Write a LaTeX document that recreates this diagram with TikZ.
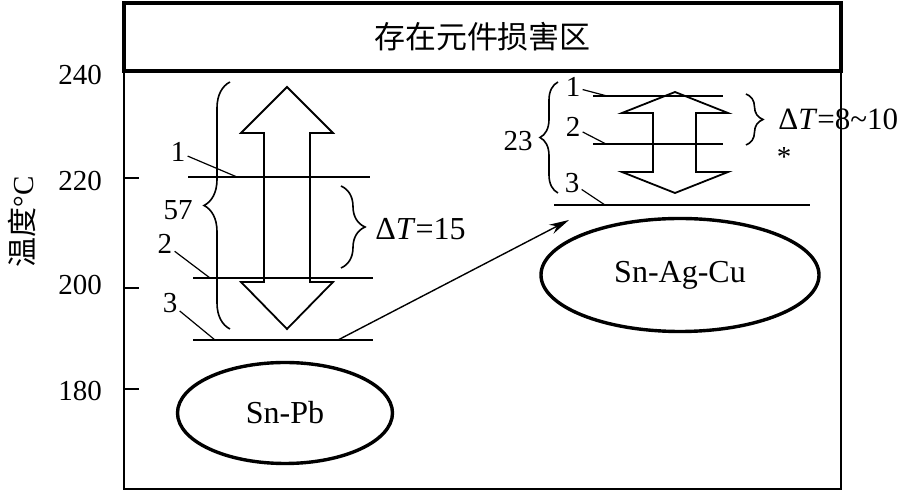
\documentclass[tikz,border=0pt]{standalone}
\usepackage{fontspec}
\setmainfont{Liberation Serif}
\newfontfamily\cjk{Noto Sans CJK SC}
\usetikzlibrary{arrows.meta,decorations.pathreplacing,shapes.geometric}
\tikzset{
  lvl/.style={line width=0.8pt},
  lead/.style={line width=0.6pt},
  blockarrow/.style={line width=0.9pt,line join=miter},
  alloy/.style={shape=ellipse,draw,line width=1.7pt,inner sep=0pt,font=\fontsize{16}{18}\selectfont},
  brc/.style={decorate,decoration={brace,amplitude=#1},line width=0.8pt},
  lbl/.style={inner sep=1pt}
}
\begin{document}
\begin{tikzpicture}[x=0.5pt,y=-0.5pt,font=\fontsize{14.5}{17}\selectfont]
\useasboundingbox (0,0) rectangle (902,491);
% frame and header
\draw[line width=1pt] (124,71) -- (124,489) -- (841,489) -- (841,71);
\node(zone) at (482.5,37)[shape=rectangle,draw,line width=1.8pt,minimum width=358.5pt,minimum height=34pt]{\cjk\fontsize{15.5}{17}\selectfont 存在元件损害区};
% axis
\node(ylab) at (22,222)[rotate=90]{{\cjk\fontsize{15}{17}\selectfont 温度}°C};
\node(t240) at (80,75){240};
\node(t220) at (80,181){220};
\node(t200) at (80,285){200};
\node(t180) at (80,391){180};
\draw[line width=1pt] (124,178) -- (139,178);
\draw[line width=1pt] (124,288) -- (139,288);
\draw[line width=1pt] (124,389) -- (139,389);

% Sn-Pb
\draw[blockarrow] (287,87) -- (333,133) -- (310,133) -- (310,282) -- (333,282) -- (287,329)
  -- (241,282) -- (264,282) -- (264,133) -- (241,133) -- cycle;
\coordinate(a1) at (188,177);
\coordinate(b1) at (370,177);
\coordinate(a2) at (193,278);
\coordinate(b2) at (373,278);
\coordinate(a3) at (193,340);
\coordinate(b3) at (373,340);
\draw[lvl] (a1) -- (b1);
\draw[lvl] (a2) -- (b2);
\draw[lvl] (a3) -- (b3);
\node(l1) at (178,152)[lbl]{1};
\node(l2) at (165,244)[lbl]{2};
\node(l3) at (170,303)[lbl]{3};
\coordinate(p1) at (237,177);
\coordinate(p2) at (210,278);
\coordinate(p3) at (215,340);
\path [lead]
  (l1)      edge      (p1)
  (l2)      edge      (p2)
  (l3)      edge      (p3);
\draw[brc=13pt] (230,329) -- (230,82);
\node(n57) at (178,210){57};
\draw[brc=12pt] (341,186) -- (341,268);
\node(dT15) at (373,229)[anchor=west,lbl,font=\fontsize{16}{18}\selectfont]{Δ\textit{T}=15};
\node(snpb) at (285,413)[alloy,minimum width=107.5pt,minimum height=50.5pt]{Sn-Pb};

% Sn-Ag-Cu
\draw[blockarrow] (675,92) -- (728,113) -- (696,113) -- (696,172) -- (728,172) -- (675,193)
  -- (622,172) -- (653,172) -- (653,113) -- (622,113) -- cycle;
\coordinate(c1) at (593,96);
\coordinate(d1) at (723,96);
\coordinate(c2) at (593,144);
\coordinate(d2) at (723,144);
\coordinate(c3) at (554,205);
\coordinate(d3) at (810,205);
\draw[lvl] (c1) -- (d1);
\draw[lvl] (c2) -- (d2);
\draw[lvl] (c3) -- (d3);
\node(m1) at (573,87)[lbl]{1};
\node(m2) at (573,127)[lbl]{2};
\node(m3) at (572,183)[lbl]{3};
\coordinate(q1) at (607,96);
\coordinate(q2) at (606,144);
\coordinate(q3) at (605,205);
\path [lead]
  (m1)      edge      (q1)
  (m2)      edge      (q2)
  (m3)      edge      (q3);
\draw[brc=9pt] (558,193) -- (558,82);
\node(n23) at (518,141){23};
\draw[brc=8.5pt] (746,94) -- (746,145);
\node(dT8) at (776,119)[anchor=west,lbl,font=\fontsize{15.5}{18}\selectfont]{Δ\textit{T}=8\textasciitilde10};
\node(star) at (784,157){*};
\node(snagcu) at (680,275)[alloy,minimum width=139pt,minimum height=56.5pt]{Sn-Ag-Cu};

% shift
\coordinate(src) at (338,340);
\coordinate(dst) at (569,220);
\draw[line width=0.7pt,-{Stealth[length=10pt,width=5pt]}] (src) -- (dst);
\end{tikzpicture}
\end{document}
